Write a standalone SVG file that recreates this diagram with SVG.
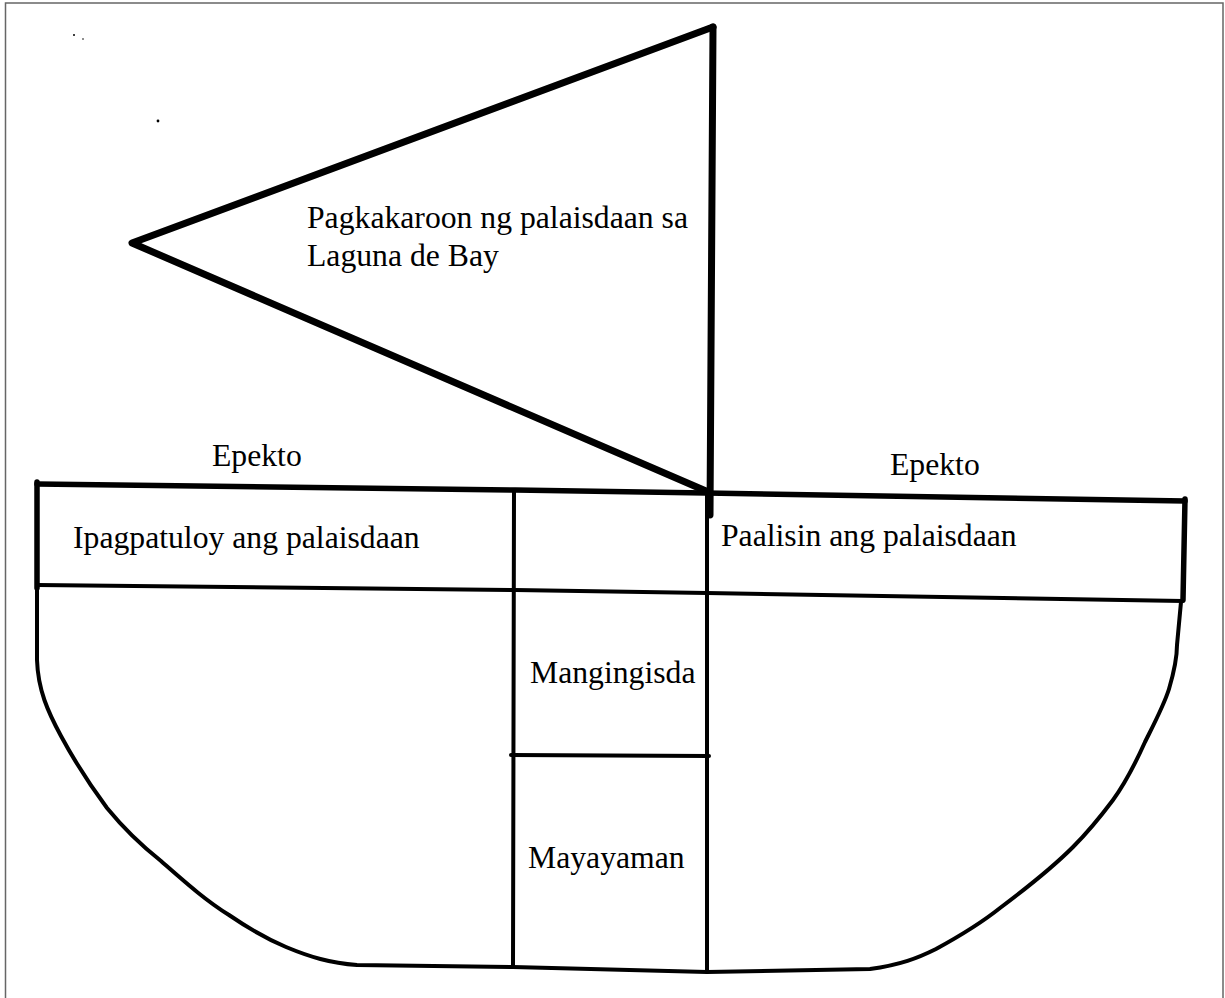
<svg xmlns="http://www.w3.org/2000/svg" width="1225" height="998" viewBox="0 0 1225 998">
<style>
.s{fill:none;stroke:#000;stroke-linecap:round;stroke-linejoin:round}
.w7{stroke-width:7}
.w6{stroke-width:5.5}
.w4{stroke-width:4}
</style>
<rect width="1225" height="998" fill="#fff"/>
<path d="M5.5,998 V3 H1223 V998" fill="none" stroke="#666" stroke-width="1.5"/>
<g id="specks" fill="#000">
<circle cx="74" cy="35" r="1"/>
<circle cx="83" cy="39" r="0.8"/>
<circle cx="158" cy="121" r="1.4"/>
</g>
<g id="sail" font-size="31.7">
<path class="s w7" d="M713,27 L132,243 L706,491"/>
<text style="font-family:'Liberation Serif','Times New Roman',serif" x="307" y="228">Pagkakaroon ng palaisdaan sa</text>
<text style="font-family:'Liberation Serif','Times New Roman',serif" x="307" y="266">Laguna de Bay</text>
</g>
<g id="label-left" font-size="31.7">
<text style="font-family:'Liberation Serif','Times New Roman',serif" x="212" y="466">Epekto</text>
</g>
<g id="label-right" font-size="31.7">
<text style="font-family:'Liberation Serif','Times New Roman',serif" x="890" y="475">Epekto</text>
</g>
<g id="deck-left" font-size="31.7">
<text style="font-family:'Liberation Serif','Times New Roman',serif" x="73" y="548">Ipagpatuloy ang palaisdaan</text>
</g>
<g id="deck-right" font-size="31.7">
<text style="font-family:'Liberation Serif','Times New Roman',serif" x="721" y="546">Paalisin ang palaisdaan</text>
</g>
<g id="cell-mangingisda" font-size="31.7">
<text style="font-family:'Liberation Serif','Times New Roman',serif" x="530" y="683">Mangingisda</text>
</g>
<g id="cell-mayayaman" font-size="31.7">
<text style="font-family:'Liberation Serif','Times New Roman',serif" x="528" y="868">Mayayaman</text>
</g>
<g id="lines">
<path class="s w7" d="M713,27 L710,515"/>
<path class="s w6" d="M37,484 L515,490 L706,493 L1185,501"/>
<path class="s w6" d="M37,482 L37,588"/>
<path class="s w6" d="M1185,499 L1183,600"/>
<path class="s w4" d="M37,585 L515,590 L707,593 L1183,601"/>
<path class="s w4" d="M514,490 L513,967"/>
<path class="s w4" d="M707,493 L707,972"/>
<path class="s w4" d="M511,755 L709,756"/>
<path class="s w4" d="M37,585 L37,660 C38,690 48,712 61,736 C75,762 90,785 107,808 C125,830 142,846 161,861 C185,882 205,900 229,915 C248,928 265,938 286,947 C310,957 330,963 357,965 L513,967 L707,972 L870,969 C900,965 918,958 936,949 C958,937 980,924 1000,908 C1028,887 1052,868 1073,847 C1088,832 1101,816 1113,800 C1126,782 1136,762 1145,742 C1155,722 1164,705 1169,689 C1174,672 1177,660 1177,645 L1181,602"/>
</g>
</svg>
